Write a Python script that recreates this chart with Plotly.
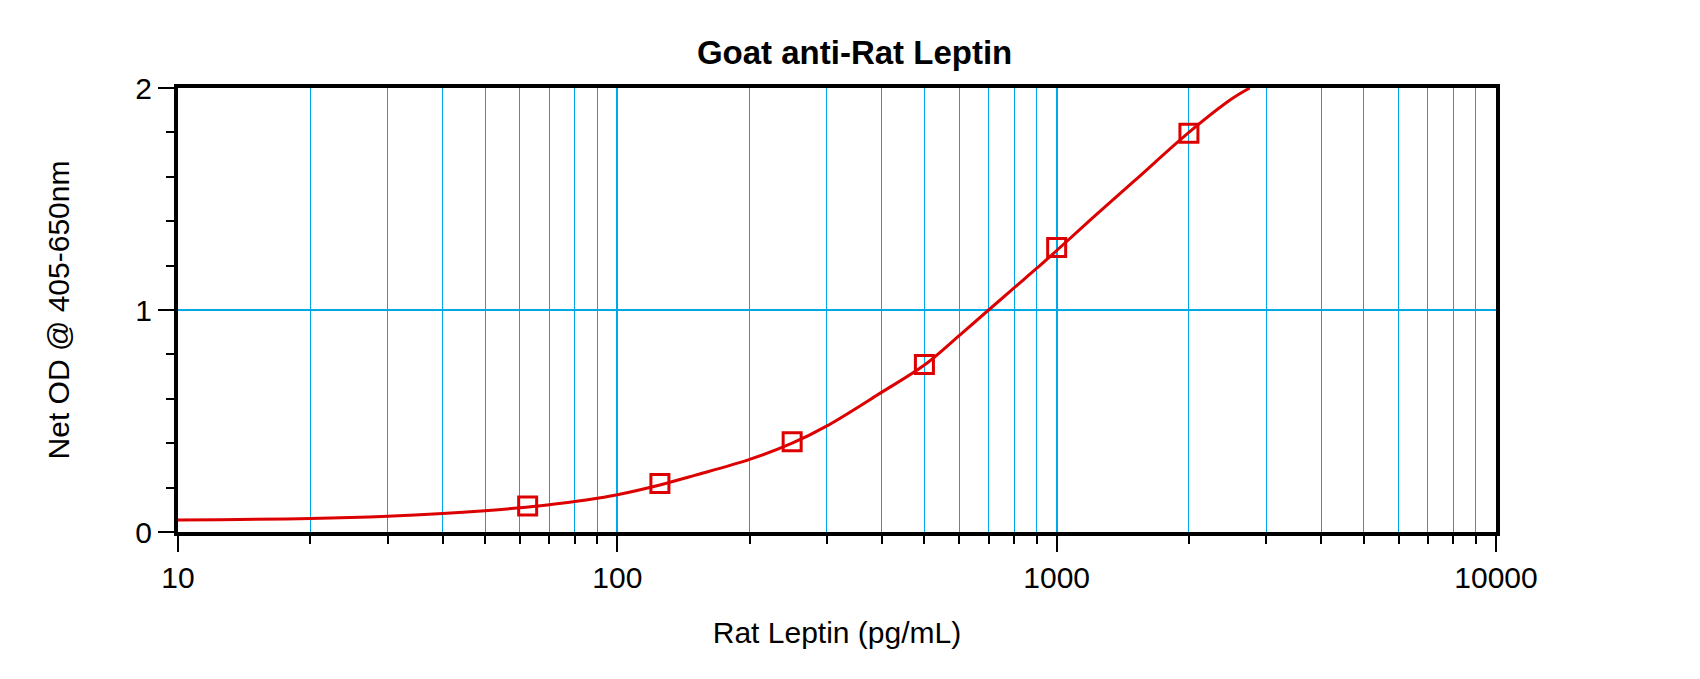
import plotly.graph_objects as go

# standards (pg/mL) and measured OD
std_conc = [62.5, 125, 250, 500, 1000, 2000]
std_od = [0.117, 0.218, 0.406, 0.754, 1.281, 1.796]

# fitted curve
fit_conc = [10, 20, 30, 40, 50, 60, 70, 80, 90, 100, 125, 150, 200, 250, 300,
            400, 500, 600, 700, 800, 900, 1000, 1200, 1500, 2000, 2500, 2750]
fit_od = [0.054, 0.061, 0.071, 0.083, 0.096, 0.109, 0.123, 0.137, 0.152, 0.168,
          0.212, 0.255, 0.327, 0.400, 0.478, 0.630, 0.752, 0.885, 1.0, 1.100,
          1.187, 1.268, 1.41, 1.58, 1.80, 1.95, 2.0]

x_ticks = [10, 100, 1000, 10000]
y_ticks = [0, 1, 2]

red = '#DD0000'
blue = '#00A8E8'
font = 'Liberation Sans, Arial, sans-serif'

fig = go.Figure()
fig.add_trace(go.Scatter(x=fit_conc, y=fit_od, mode='lines',
                         line=dict(color=red, width=3, shape='spline'),
                         showlegend=False))
fig.add_trace(go.Scatter(x=std_conc, y=std_od, mode='markers',
                         marker=dict(symbol='square-open', size=18, color=red,
                                     line=dict(color=red, width=3)),
                         showlegend=False))

# page body has an 8px margin, so the margins are shifted by that
fig.update_layout(
    width=1700, height=679,
    margin=dict(l=170, r=212, t=80, b=155),
    paper_bgcolor='white', plot_bgcolor='white',
    font=dict(family=font, size=30, color='black'),
    title=dict(text='<b>Goat anti-Rat Leptin</b>', x=0.498, xanchor='center',
               y=1 - 44 / 679, yanchor='middle', font=dict(size=33, family=font)),
)

fig.update_xaxes(
    type='log', range=[1, 4],
    tickvals=x_ticks, ticktext=[str(v) for v in x_ticks],
    ticks='outside', ticklen=16, tickwidth=2, tickcolor='black',
    showline=True, linecolor='black', linewidth=4, mirror=True,
    showgrid=True, gridcolor=blue, gridwidth=1.5,
    minor=dict(ticks='outside', ticklen=8, tickwidth=2, tickcolor='black',
               dtick='D1', showgrid=True, gridcolor=blue, gridwidth=1.2),
    title=dict(text='Rat Leptin (pg/mL)', standoff=30, font=dict(size=30)),
    zeroline=False,
)
fig.update_yaxes(
    range=[0, 2], tickvals=y_ticks,
    ticks='outside', ticklen=16, tickwidth=2, tickcolor='black',
    showline=True, linecolor='black', linewidth=4, mirror=True,
    showgrid=True, gridcolor=blue, gridwidth=2,
    minor=dict(ticks='outside', ticklen=8, tickwidth=2, tickcolor='black',
               dtick=0.2, showgrid=False),
    title=dict(text='Net OD @ 405-650nm', standoff=58, font=dict(size=30)),
    zeroline=False,
)

fig.write_html('out.html')
